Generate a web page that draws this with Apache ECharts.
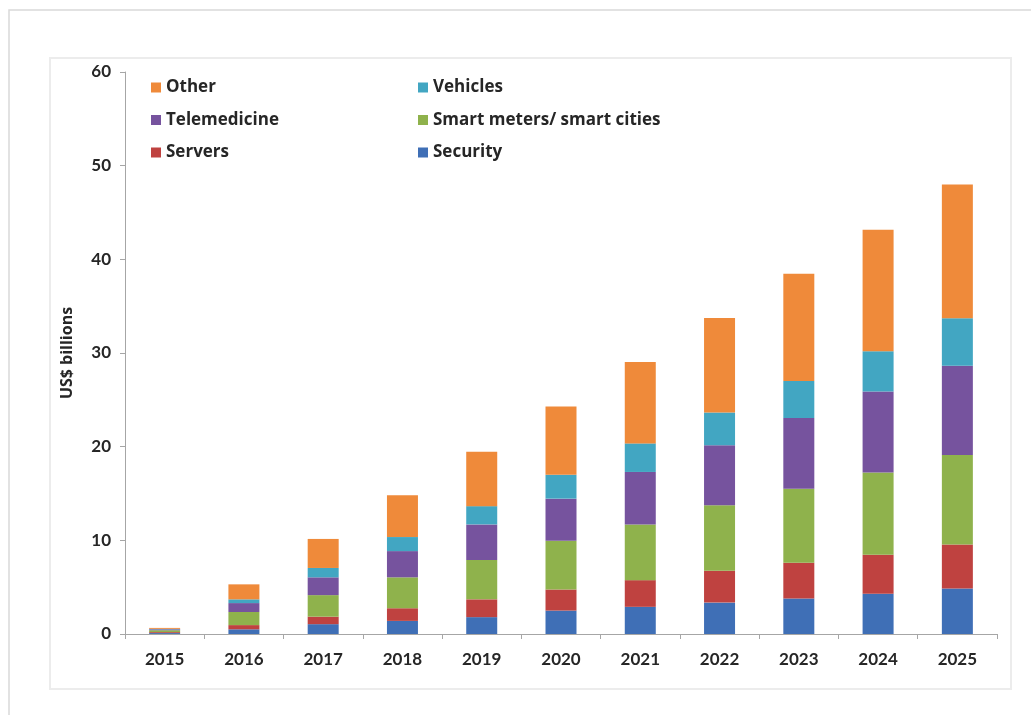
<!DOCTYPE html>
<html>
<head>
<meta charset="utf-8">
<script src="https://cdn.jsdelivr.net/npm/echarts@6/dist/echarts.min.js"></script>
<style>
  html, body { margin: 0; padding: 0; background: #ffffff; }
  #chart { width: 1031px; height: 715px; }
</style>
</head>
<body>
<div id="chart"></div>
<script>
// Years on the category axis
const years = ['2015', '2016', '2017', '2018', '2019', '2020', '2021', '2022', '2023', '2024', '2025'];

// Revenue per segment, US$ billions (stacked bottom to top)
const security     = [0.10, 0.50, 1.05, 1.40, 1.80, 2.50, 2.90, 3.35, 3.80, 4.30, 4.85];
const servers      = [0.10, 0.45, 0.80, 1.35, 1.90, 2.25, 2.85, 3.40, 3.80, 4.15, 4.70];
const smartMeters  = [0.20, 1.40, 2.30, 3.30, 4.20, 5.20, 5.95, 7.00, 7.90, 8.80, 9.55];
const telemedicine = [0.10, 0.95, 1.90, 2.80, 3.80, 4.50, 5.60, 6.40, 7.55, 8.65, 9.55];
const vehicles     = [0.05, 0.40, 1.00, 1.50, 1.95, 2.55, 3.05, 3.50, 3.95, 4.30, 5.05];
const other        = [0.10, 1.60, 3.10, 4.45, 5.80, 7.30, 8.70, 10.10, 11.45, 12.95, 14.30];

// Value axis ticks
const yTicks = [0, 10, 20, 30, 40, 50, 60];

const seriesDefs = [
  { name: 'Security', data: security, color: '#3f6fb6' },
  { name: 'Servers', data: servers, color: '#bf4240' },
  { name: 'Smart meters/ smart cities', data: smartMeters, color: '#8fb24c' },
  { name: 'Telemedicine', data: telemedicine, color: '#76539e' },
  { name: 'Vehicles', data: vehicles, color: '#42a6c2' },
  { name: 'Other', data: other, color: '#ef8a3a' }
];

const textColor = '#262626';
const font = 'Lato, "Open Sans", sans-serif';
const wideFont = '"Open Sans", Lato, sans-serif';

const chart = echarts.init(document.getElementById('chart'), null, { renderer: 'canvas' });

const legendText = { color: textColor, fontFamily: wideFont, fontWeight: 'bold', fontSize: 17 };

chart.setOption({
  animation: false,
  backgroundColor: '#ffffff',
  graphic: [
    // outer frame
    { type: 'polyline', silent: true, shape: { points: [[9, 715], [9, 10], [1031, 10]] },
      style: { stroke: '#d9d9d9', lineWidth: 1.5, fill: null } },
    // inner chart panel
    { type: 'rect', silent: true, shape: { x: 50, y: 58, width: 961, height: 631 },
      style: { stroke: '#ececec', lineWidth: 2, fill: null } }
  ],
  legend: [
    {
      data: ['Other', 'Telemedicine', 'Servers'],
      orient: 'vertical', left: 146, top: 74,
      itemWidth: 10, itemHeight: 10, itemGap: 15.5,
      icon: 'rect', textStyle: legendText, selectedMode: false
    },
    {
      data: ['Vehicles', 'Smart meters/ smart cities', 'Security'],
      orient: 'vertical', left: 413, top: 74,
      itemWidth: 10, itemHeight: 10, itemGap: 15.5,
      icon: 'rect', textStyle: legendText, selectedMode: false
    }
  ],
  grid: { left: 125, right: 34, top: 72, bottom: 81, containLabel: false },
  xAxis: {
    type: 'category',
    data: years,
    axisLine: { lineStyle: { color: '#a6a6a6', width: 1 } },
    axisTick: { show: true, alignWithLabel: false, length: 5, lineStyle: { color: '#a6a6a6' } },
    axisLabel: { color: textColor, fontFamily: font, fontWeight: 'bold', fontSize: 17, margin: 17 }
  },
  yAxis: {
    type: 'value',
    min: yTicks[0],
    max: yTicks[yTicks.length - 1],
    interval: 10,
    name: 'US$ billions',
    nameLocation: 'middle',
    nameRotate: 90,
    nameGap: 50,
    nameTextStyle: { color: textColor, fontFamily: wideFont, fontWeight: 'bold', fontSize: 16 },
    axisLine: { show: true, lineStyle: { color: '#a6a6a6', width: 1 } },
    axisTick: { show: true, length: 5, lineStyle: { color: '#a6a6a6' } },
    splitLine: { show: false },
    axisLabel: { color: textColor, fontFamily: font, fontWeight: 'bold', fontSize: 17, margin: 14 }
  },
  series: seriesDefs.map(s => ({
    name: s.name,
    type: 'bar',
    stack: 'total',
    data: s.data,
    barWidth: 31,
    itemStyle: { color: s.color },
    emphasis: { disabled: true }
  }))
});
</script>
</body>
</html>
